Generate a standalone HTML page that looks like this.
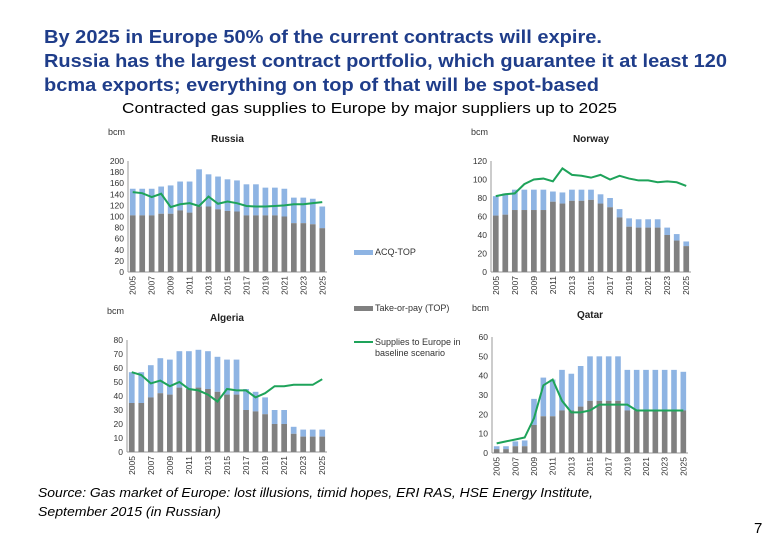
<!DOCTYPE html>
<html><head><meta charset="utf-8"><style>
body{margin:0;background:#fff;width:780px;height:540px;overflow:hidden;font-family:"Liberation Sans",sans-serif}
svg{position:absolute;left:0;top:0}
</style></head><body>
<svg id="s" width="780" height="540">
<g fill="#1f3d8a" font-weight="bold" font-size="18">
<text x="44" y="43" textLength="558" lengthAdjust="spacingAndGlyphs">By 2025 in Europe 50% of the current contracts will expire.</text>
<text x="44" y="67" textLength="683" lengthAdjust="spacingAndGlyphs">Russia has the largest contract portfolio, which guarantee it at least 120</text>
<text x="44" y="91" textLength="555" lengthAdjust="spacingAndGlyphs">bcma exports; everything on top of that will be spot-based</text>
</g>
<text x="122" y="113" font-size="15" fill="#000" textLength="495" lengthAdjust="spacingAndGlyphs">Contracted gas supplies to Europe by major suppliers up to 2025</text>
<g font-style="italic" font-size="13" fill="#000">
<text x="38" y="497" textLength="555" lengthAdjust="spacingAndGlyphs">Source: Gas market of Europe: lost illusions, timid hopes, ERI RAS, HSE Energy Institute,</text>
<text x="38" y="516" textLength="183" lengthAdjust="spacingAndGlyphs">September 2015 (in Russian)</text>
</g>
<text x="754" y="533" font-size="15">7</text>
<g font-size="9" fill="#333">
<rect x="354" y="250" width="19" height="5" fill="#8eb4e3"/>
<text x="375" y="255">ACQ-TOP</text>
<rect x="354" y="306" width="19" height="5" fill="#808080"/>
<text x="375" y="311">Take-or-pay (TOP)</text>
<line x1="354" y1="342" x2="373" y2="342" stroke="#1ea35a" stroke-width="2"/>
<text x="375" y="345">Supplies to Europe in</text>
<text x="375" y="356">baseline scenario</text>
</g>
</svg>
<script>
const years=[2005,2006,2007,2008,2009,2010,2011,2012,2013,2014,2015,2016,2017,2018,2019,2020,2021,2022,2023,2024,2025];
const russiaTotal=[150,150,150,154,156,163,163,185,176,172,167,165,158,158,152,152,150,134,134,132,118];
const russiaTop=[102,102,102,105,105,111,107,118,118,113,110,109,102,102,102,102,100,88,88,86,79];
const russiaSupply=[144,142,135,141,117,122,124,119,136,123,127,124,119,118,118,119,120,122,122,124,126];
const norwayTotal=[82,85,89,89,89,89,87,86,89,89,89,84,80,68,58,57,57,57,48,41,33];
const norwayTop=[61,62,67,67,67,67,76,74,77,77,78,74,70,59,49,48,48,48,40,34,28];
const norwaySupply=[82,84,85,95,100,101,98,112,105,104,102,105,100,104,101,99,99,97,98,97,93];
const algeriaTotal=[57,57,62,67,66,72,72,73,72,68,66,66,45,43,39,30,30,18,16,16,16];
const algeriaTop=[35,35,39,42,41,46,45,46,45,43,41,41,30,29,27,20,20,13,11,11,11];
const algeriaSupply=[57,55,49,51,47,50,45,44,41,36,45,44,44,39,42,47,47,48,48,48,52];
const qatarTotal=[3.5,3.5,6,6.5,28,39,38,43,41,45,50,50,50,50,43,43,43,43,43,43,42];
const qatarTop=[2,2,3.5,3.5,14.5,19,19,22,22,24,27,27,27,27,22,22,22,22,22,22,22];
const qatarSupply=[5,6,7,8,18,35,38,27,21,21,22,25,25,25,25,22,22,22,22,22,22];
const russiaTicks=[0,20,40,60,80,100,120,140,160,180,200];
const norwayTicks=[0,20,40,60,80,100,120];
const algeriaTicks=[0,10,20,30,40,50,60,70,80];
const qatarTicks=[0,10,20,30,40,50,60];
const NS="http://www.w3.org/2000/svg",svg=document.getElementById('s');
function mk(t,a,p){const e=document.createElementNS(NS,t);for(const k in a)e.setAttribute(k,a[k]);(p||svg).appendChild(e);return e;}
function chart(name,title,x0,x1,yTop,yBot,max,ticks,total,top,supply){
 const g=mk('g',{});
 
 
 const n=years.length,bw=(x1-x0)/n;
 const X=i=>x0+bw*(i+0.5), Y=v=>yBot-(v/max)*(yBot-yTop);
 const t=mk('text',{x:(x0+x1)/2,y:yTop-19,'text-anchor':'middle','font-size':'10','font-weight':'bold',fill:'#222'},g);t.textContent=title;
 
 
 const u=mk('text',{x:x0-20,y:yTop-26,'font-size':'9',fill:'#333'},g);u.textContent='bcm';
 
 
 ticks.forEach(v=>{const l=mk('text',{x:x0-4,y:Y(v)+3,'text-anchor':'end','font-size':'8.5',fill:'#333'},g);l.textContent=v;
  
  });
 mk('line',{x1:x0,y1:yTop,x2:x0,y2:yBot,stroke:'#999','stroke-width':1},g);
 mk('line',{x1:x0,y1:yBot,x2:x1,y2:yBot,stroke:'#999','stroke-width':1},g);
 years.forEach((yr,i)=>{
  const w=bw*0.6;
  const b1=mk('rect',{x:X(i)-w/2,y:Y(total[i]),width:w,height:Y(top[i])-Y(total[i]),fill:'#8eb4e3'},g);
  
  
  const b2=mk('rect',{x:X(i)-w/2,y:Y(top[i]),width:w,height:yBot-Y(top[i]),fill:'#808080'},g);
  
  
  if(i%2==0){const l=mk('text',{x:0,y:0,'text-anchor':'end','font-size':'8.5',fill:'#333',transform:`translate(${X(i)+3},${yBot+4}) rotate(-90)`},g);l.textContent=yr;
   
   }
 });
 const p=mk('polyline',{points:supply.map((v,i)=>X(i)+','+Y(v)).join(' '),fill:'none',stroke:'#1ea35a','stroke-width':2},g);
 
 
}
chart('russia','Russia',128,327,161,272,200,russiaTicks,russiaTotal,russiaTop,russiaSupply);
chart('norway','Norway',491,691,161,272,120,norwayTicks,norwayTotal,norwayTop,norwaySupply);
chart('algeria','Algeria',127,327,340,452,80,algeriaTicks,algeriaTotal,algeriaTop,algeriaSupply);
chart('qatar','Qatar',492,688,337,453,60,qatarTicks,qatarTotal,qatarTop,qatarSupply);
</script>
</body></html>
